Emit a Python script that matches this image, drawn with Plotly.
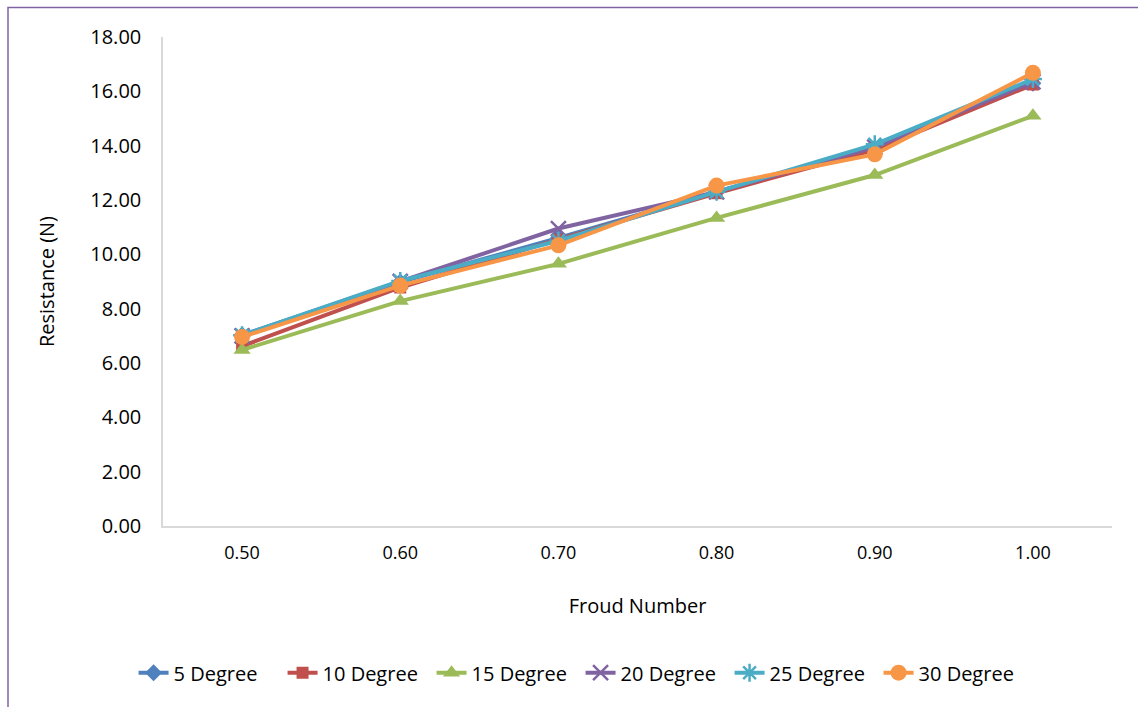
import plotly.graph_objects as go

froude = ["0.50", "0.60", "0.70", "0.80", "0.90", "1.00"]
deg5 = [7.03, 8.98, 10.60, 12.30, 13.90, 16.30]
deg10 = [6.62, 8.78, 10.55, 12.25, 13.85, 16.25]
deg15 = [6.48, 8.28, 9.65, 11.34, 12.92, 15.10]
deg20 = [7.00, 9.00, 10.95, 12.30, 13.95, 16.35]
deg25 = [7.02, 9.02, 10.50, 12.30, 14.05, 16.45]
deg30 = [6.96, 8.85, 10.33, 12.53, 13.68, 16.68]

series = [
    ("5 Degree", deg5, "#4F81BD", "diamond", 13, None),
    ("10 Degree", deg10, "#C0504D", "square", 12, None),
    ("15 Degree", deg15, "#9BBB59", "triangle-up", 15, None),
    ("20 Degree", deg20, "#8064A2", "x-thin-open", 15, 2.5),
    ("25 Degree", deg25, "#4BACC6", "asterisk-open", 15, 2.5),
    ("30 Degree", deg30, "#F79646", "circle", 16, None),
]

FONT = "Open Sans"
fig = go.Figure()
for name, vals, col, sym, size, lw in series:
    marker = dict(symbol=sym, size=size, color=col)
    if lw:
        marker["line"] = dict(color=col, width=lw)
    else:
        marker["line"] = dict(width=0)
    fig.add_trace(go.Scatter(
        x=froude, y=vals, name=name, mode="lines+markers",
        line=dict(color=col, width=4), marker=marker,
    ))

fig.update_layout(
    width=1138, height=707,
    margin=dict(l=163, r=26, t=37, b=181, autoexpand=False),
    paper_bgcolor="white", plot_bgcolor="white",
    font=dict(family=FONT, size=20, color="black"),
    showlegend=True,
    legend=dict(orientation="h", x=0.44, xanchor="center", y=-0.30, yanchor="middle",
                font=dict(family=FONT, size=20), traceorder="normal",
                entrywidth=104, entrywidthmode="pixels"),
    xaxis=dict(
        type="category", range=[-0.5, 5.5],
        showline=True, linecolor="#D9D9D9", linewidth=1.5,
        showgrid=False, zeroline=False, ticks="",
        tickfont=dict(family=FONT, size=18), ticklabelstandoff=10,
        title=dict(text="Froud Number", font=dict(family=FONT, size=20), standoff=36),
    ),
    yaxis=dict(
        range=[0, 18], dtick=2, tickformat=".2f",
        showline=True, linecolor="#D9D9D9", linewidth=1.5,
        showgrid=False, zeroline=False, ticks="",
        tickfont=dict(family=FONT, size=20), ticklabelstandoff=16,
        title=dict(text="Resistance (N)", font=dict(family=FONT, size=20), standoff=30),
    ),
    shapes=[dict(type="rect", xref="paper", yref="paper",
                 x0=(8 - 163) / 949, x1=(1145 - 163) / 949,
                 y0=(526 - 715) / 489, y1=1 + (37 - 7.5) / 489,
                 line=dict(color="#8064A2", width=1.5), layer="below")],
)

fig.write_html("out.html")
